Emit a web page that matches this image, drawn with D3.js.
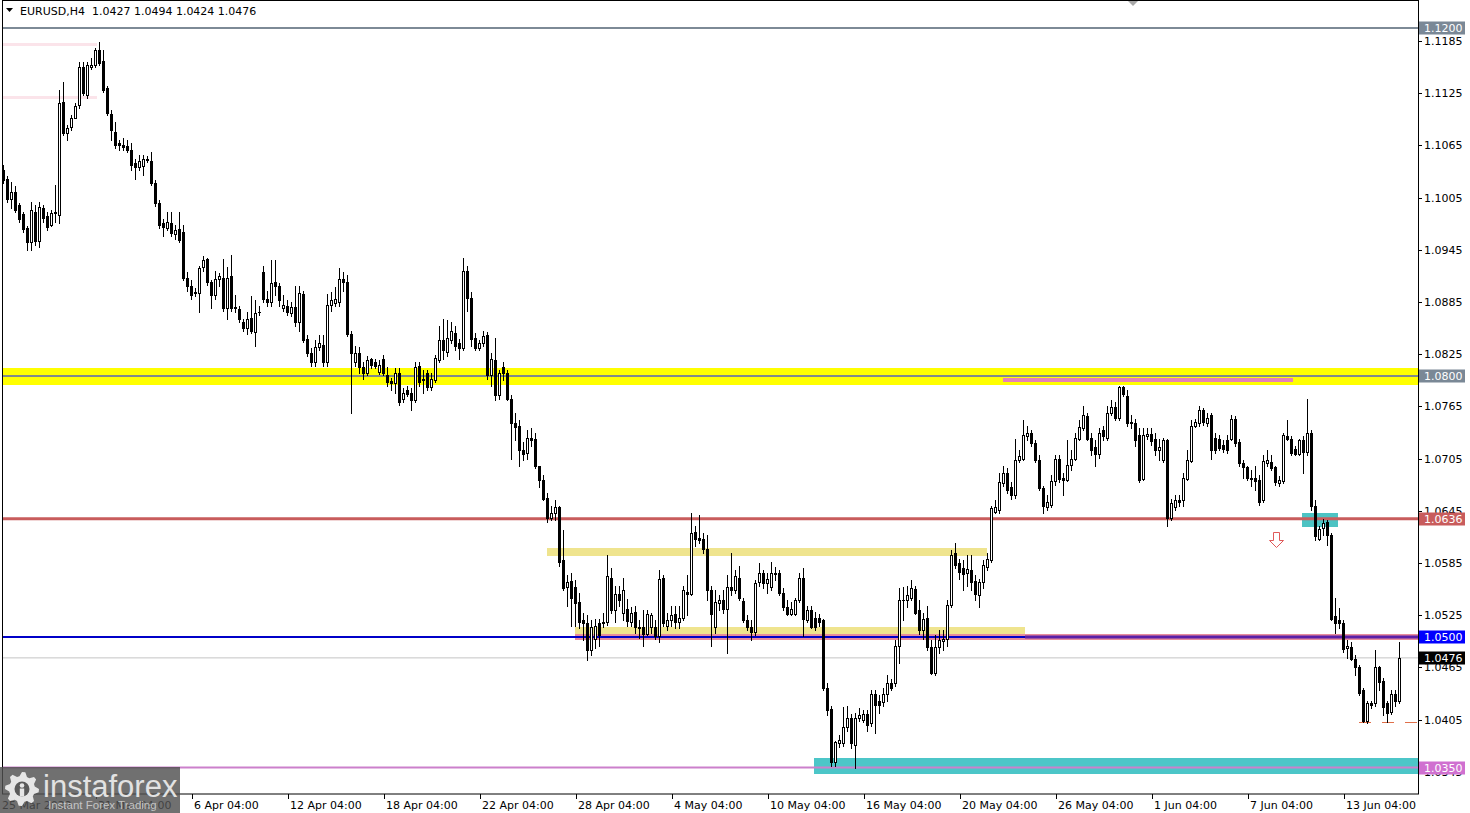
<!DOCTYPE html>
<html><head><meta charset="utf-8">
<script src="https://cdn.jsdelivr.net/npm/d3@7"></script>
<style>html,body{margin:0;padding:0;background:#fff;overflow:hidden}</style>
</head><body>
<svg id="c" width="1470" height="813"></svg>
<script>
const opens=[
1.1037,1.1027,1.1004,1.1012,1.0996,1.0986,1.0970,1.0954,1.0989,1.0955,
1.0993,1.0984,1.0974,1.0987,1.0985,1.1115,1.1079,1.1086,1.1097,1.1111,
1.1155,1.1123,1.1155,1.1157,1.1175,1.1162,1.1131,1.1101,1.1081,1.1068,
1.1066,1.1064,1.1060,1.1045,1.1040,1.1041,1.1048,1.1047,1.1022,1.0999,
1.0976,1.0970,1.0976,1.0963,1.0969,1.0965,1.0913,1.0904,1.0896,1.0895,
1.0925,1.0934,1.0908,1.0893,1.0911,1.0913,1.0878,1.0915,1.0878,1.0877,
1.0862,1.0855,1.0867,1.0851,1.0873,1.0920,1.0889,1.0885,1.0908,1.0904,
1.0878,1.0881,1.0872,1.0879,1.0862,1.0894,1.0842,1.0827,1.0816,1.0833,
1.0836,1.0816,1.0882,1.0884,1.0885,1.0912,1.0908,1.0848,1.0816,1.0826,
1.0810,1.0804,1.0819,1.0816,1.0805,1.0820,1.0801,1.0794,1.0792,1.0804,
1.0773,1.0784,1.0780,1.0772,1.0811,1.0797,1.0803,1.0787,1.0795,1.0818,
1.0841,1.0828,1.0841,1.0850,1.0838,1.0832,1.0921,1.0890,1.0844,1.0832,
1.0838,1.0847,1.0801,1.0818,1.0778,1.0810,1.0803,1.0774,1.0746,1.0742,
1.0715,1.0711,1.0729,1.0728,1.0696,1.0680,1.0660,1.0637,1.0643,1.0650,
1.0588,1.0557,1.0564,1.0558,1.0540,1.0520,1.0516,1.0485,1.0498,1.0516,
1.0516,1.0517,1.0568,1.0531,1.0549,1.0528,1.0532,1.0517,1.0529,1.0512,
1.0511,1.0504,1.0511,1.0511,1.0501,1.0568,1.0513,1.0519,1.0526,1.0517,
1.0522,1.0552,1.0550,1.0621,1.0614,1.0613,1.0601,1.0554,1.0511,1.0539,
1.0543,1.0532,1.0557,1.0554,1.0568,1.0541,1.0519,1.0512,1.0506,1.0563,
1.0574,1.0562,1.0557,1.0573,1.0573,1.0551,1.0534,1.0527,1.0527,1.0542,
1.0568,1.0519,1.0531,1.0522,1.0522,1.0519,1.0441,1.0417,1.0356,1.0378,
1.0378,1.0396,1.0407,1.0376,1.0407,1.0405,1.0412,1.0401,1.0434,1.0426,
1.0425,1.0434,1.0447,1.0447,1.0490,1.0542,1.0542,1.0545,1.0555,1.0531,
1.0508,1.0522,1.0488,1.0459,1.0488,1.0495,1.0498,1.0537,1.0596,1.0585,
1.0579,1.0573,1.0577,1.0564,1.0548,1.0563,1.0581,1.0588,1.0644,1.0646,
1.0677,1.0688,1.0672,1.0663,1.0704,1.0705,1.0731,1.0734,1.0723,1.0704,
1.0671,1.0649,1.0652,1.0679,1.0705,1.0683,1.0681,1.0698,1.0705,1.0728,
1.0740,1.0754,1.0729,1.0718,1.0710,1.0738,1.0729,1.0757,1.0764,1.0752,
1.0787,1.0777,1.0746,1.0746,1.0732,1.0682,1.0731,1.0733,1.0728,1.0715,
1.0703,1.0726,1.0637,1.0650,1.0658,1.0657,1.0682,1.0702,1.0743,1.0746,
1.0761,1.0746,1.0755,1.0729,1.0728,1.0721,1.0726,1.0728,1.0751,1.0724,
1.0700,1.0695,1.0683,1.0683,1.0680,1.0657,1.0700,1.0701,1.0695,1.0677,
1.0679,1.0731,1.0728,1.0716,1.0710,1.0727,1.0713,1.0735,1.0651,1.0613,
1.0625,1.0632,1.0617,1.0524,1.0519,1.0516,1.0487,1.0489,1.0475,1.0466,
1.0439,1.0404,1.0424,1.0424,1.0465,1.0450,1.0424,1.0414,1.0435,1.0427];
const highs=[
1.1042,1.1030,1.1023,1.1018,1.0999,1.0988,1.0972,1.1000,1.0996,1.1000,
1.0996,1.0988,1.0991,1.1019,1.1129,1.1138,1.1088,1.1100,1.1114,1.1161,
1.1161,1.1161,1.1165,1.1177,1.1184,1.1175,1.1133,1.1106,1.1092,1.1071,
1.1074,1.1071,1.1068,1.1050,1.1054,1.1054,1.1053,1.1057,1.1025,1.1002,
1.0981,1.0988,1.0988,1.0973,1.0988,1.0973,1.0919,1.0910,1.0901,1.0926,
1.0938,1.0936,1.0910,1.0921,1.0918,1.0935,1.0925,1.0939,1.0893,1.0881,
1.0866,1.0873,1.0892,1.0887,1.0881,1.0926,1.0898,1.0933,1.0933,1.0907,
1.0893,1.0887,1.0885,1.0904,1.0904,1.0898,1.0847,1.0832,1.0841,1.0847,
1.0847,1.0894,1.0896,1.0902,1.0924,1.0919,1.0916,1.0852,1.0835,1.0833,
1.0816,1.0823,1.0821,1.0820,1.0818,1.0824,1.0810,1.0798,1.0809,1.0809,
1.0786,1.0789,1.0786,1.0816,1.0816,1.0807,1.0807,1.0804,1.0824,1.0858,
1.0866,1.0864,1.0862,1.0858,1.0843,1.0936,1.0926,1.0896,1.0850,1.0841,
1.0852,1.0851,1.0827,1.0844,1.0807,1.0816,1.0807,1.0778,1.0758,1.0749,
1.0724,1.0738,1.0740,1.0735,1.0697,1.0686,1.0666,1.0651,1.0657,1.0651,
1.0623,1.0571,1.0574,1.0565,1.0551,1.0528,1.0525,1.0519,1.0521,1.0521,
1.0528,1.0594,1.0579,1.0559,1.0559,1.0568,1.0544,1.0534,1.0536,1.0519,
1.0531,1.0531,1.0528,1.0519,1.0577,1.0571,1.0528,1.0536,1.0536,1.0536,
1.0559,1.0571,1.0642,1.0628,1.0640,1.0620,1.0617,1.0559,1.0554,1.0548,
1.0554,1.0571,1.0597,1.0577,1.0582,1.0545,1.0525,1.0519,1.0565,1.0585,
1.0577,1.0573,1.0586,1.0581,1.0577,1.0556,1.0542,1.0540,1.0545,1.0574,
1.0579,1.0536,1.0536,1.0529,1.0526,1.0521,1.0447,1.0421,1.0381,1.0387,
1.0420,1.0421,1.0412,1.0413,1.0418,1.0416,1.0416,1.0439,1.0439,1.0433,
1.0441,1.0456,1.0452,1.0496,1.0556,1.0557,1.0559,1.0565,1.0559,1.0542,
1.0528,1.0536,1.0496,1.0502,1.0508,1.0508,1.0542,1.0600,1.0608,1.0590,
1.0588,1.0594,1.0594,1.0571,1.0567,1.0588,1.0596,1.0651,1.0657,1.0689,
1.0697,1.0694,1.0678,1.0728,1.0715,1.0749,1.0743,1.0738,1.0726,1.0709,
1.0674,1.0663,1.0686,1.0709,1.0709,1.0689,1.0726,1.0715,1.0735,1.0749,
1.0766,1.0758,1.0734,1.0726,1.0740,1.0743,1.0766,1.0772,1.0770,1.0789,
1.0789,1.0784,1.0755,1.0751,1.0740,1.0740,1.0740,1.0740,1.0735,1.0728,
1.0729,1.0728,1.0659,1.0663,1.0663,1.0689,1.0715,1.0749,1.0751,1.0766,
1.0763,1.0758,1.0758,1.0735,1.0732,1.0726,1.0732,1.0755,1.0754,1.0728,
1.0703,1.0697,1.0692,1.0697,1.0686,1.0709,1.0715,1.0709,1.0697,1.0685,
1.0735,1.0749,1.0731,1.0719,1.0728,1.0731,1.0773,1.0738,1.0657,1.0628,
1.0636,1.0634,1.0620,1.0545,1.0533,1.0519,1.0496,1.0494,1.0479,1.0468,
1.0441,1.0427,1.0427,1.0485,1.0467,1.0453,1.0427,1.0439,1.0439,1.0494];
const lows=[
1.1022,1.1000,1.0993,1.0988,1.0977,1.0965,1.0945,1.0945,1.0951,1.0948,
1.0977,1.0968,1.0972,1.0977,1.0976,1.1077,1.1071,1.1083,1.1096,1.1108,
1.1123,1.1120,1.1153,1.1155,1.1157,1.1126,1.1100,1.1071,1.1062,1.1060,
1.1060,1.1057,1.1037,1.1027,1.1037,1.1031,1.1046,1.1019,1.0995,1.0970,
1.0961,1.0968,1.0961,1.0958,1.0954,1.0910,1.0898,1.0889,1.0892,1.0873,
1.0921,1.0905,1.0878,1.0889,1.0904,1.0875,1.0866,1.0875,1.0873,1.0862,
1.0852,1.0848,1.0849,1.0835,1.0870,1.0885,1.0881,1.0881,1.0893,1.0881,
1.0875,1.0870,1.0869,1.0858,1.0852,1.0839,1.0823,1.0812,1.0812,1.0830,
1.0812,1.0812,1.0875,1.0881,1.0881,1.0898,1.0846,1.0757,1.0812,1.0804,
1.0797,1.0801,1.0809,1.0809,1.0802,1.0801,1.0789,1.0784,1.0781,1.0767,
1.0770,1.0777,1.0761,1.0770,1.0789,1.0781,1.0784,1.0784,1.0793,1.0816,
1.0820,1.0823,1.0838,1.0830,1.0820,1.0830,1.0875,1.0835,1.0830,1.0830,
1.0835,1.0797,1.0789,1.0772,1.0774,1.0795,1.0772,1.0705,1.0726,1.0696,
1.0703,1.0705,1.0720,1.0694,1.0672,1.0657,1.0632,1.0634,1.0634,1.0582,
1.0554,1.0536,1.0513,1.0513,1.0510,1.0496,1.0473,1.0479,1.0487,1.0490,
1.0512,1.0514,1.0528,1.0517,1.0536,1.0519,1.0513,1.0513,1.0505,1.0499,
1.0490,1.0502,1.0505,1.0498,1.0494,1.0513,1.0508,1.0513,1.0510,1.0510,
1.0519,1.0525,1.0548,1.0605,1.0608,1.0597,1.0542,1.0490,1.0505,1.0531,
1.0528,1.0482,1.0548,1.0551,1.0542,1.0517,1.0508,1.0496,1.0502,1.0559,
1.0556,1.0551,1.0554,1.0565,1.0548,1.0531,1.0525,1.0525,1.0525,1.0540,
1.0501,1.0517,1.0510,1.0508,1.0513,1.0439,1.0410,1.0352,1.0352,1.0374,
1.0375,1.0392,1.0372,1.0350,1.0404,1.0402,1.0392,1.0398,1.0390,1.0413,
1.0421,1.0427,1.0439,1.0444,1.0470,1.0519,1.0534,1.0542,1.0526,1.0504,
1.0498,1.0485,1.0457,1.0456,1.0482,1.0485,1.0490,1.0535,1.0579,1.0567,
1.0554,1.0559,1.0554,1.0542,1.0534,1.0556,1.0577,1.0586,1.0642,1.0643,
1.0674,1.0666,1.0659,1.0660,1.0701,1.0703,1.0726,1.0720,1.0701,1.0669,
1.0642,1.0646,1.0650,1.0675,1.0678,1.0663,1.0679,1.0692,1.0703,1.0726,
1.0738,1.0726,1.0709,1.0697,1.0706,1.0726,1.0726,1.0755,1.0749,1.0749,
1.0777,1.0743,1.0740,1.0720,1.0678,1.0680,1.0728,1.0721,1.0709,1.0703,
1.0701,1.0628,1.0634,1.0646,1.0651,1.0651,1.0680,1.0701,1.0741,1.0743,
1.0744,1.0743,1.0705,1.0712,1.0715,1.0713,1.0711,1.0726,1.0720,1.0697,
1.0683,1.0680,1.0674,1.0669,1.0652,1.0655,1.0697,1.0692,1.0675,1.0674,
1.0677,1.0726,1.0709,1.0709,1.0709,1.0688,1.0709,1.0646,1.0611,1.0611,
1.0617,1.0606,1.0519,1.0505,1.0510,1.0483,1.0476,1.0473,1.0456,1.0433,
1.0402,1.0401,1.0418,1.0421,1.0439,1.0410,1.0402,1.0412,1.0421,1.0424];
const closes=[
1.1025,1.1004,1.1011,1.0991,1.0981,1.0969,1.0954,1.0991,1.0955,1.0994,
1.0982,1.0971,1.0987,1.0988,1.1114,1.1079,1.1085,1.1097,1.1110,1.1155,
1.1125,1.1157,1.1158,1.1175,1.1160,1.1129,1.1102,1.1083,1.1065,1.1066,
1.1063,1.1060,1.1042,1.1040,1.1047,1.1049,1.1049,1.1022,1.0999,1.0973,
1.0971,1.0977,1.0964,1.0968,1.0956,1.0913,1.0903,1.0893,1.0895,1.0924,
1.0933,1.0908,1.0893,1.0912,1.0915,1.0878,1.0913,1.0878,1.0879,1.0865,
1.0855,1.0866,1.0852,1.0872,1.0874,1.0888,1.0885,1.0907,1.0904,1.0887,
1.0882,1.0873,1.0879,1.0862,1.0895,1.0841,1.0826,1.0816,1.0833,1.0838,
1.0816,1.0882,1.0887,1.0888,1.0911,1.0908,1.0848,1.0826,1.0827,1.0810,
1.0804,1.0818,1.0813,1.0812,1.0813,1.0804,1.0793,1.0792,1.0804,1.0770,
1.0781,1.0779,1.0772,1.0810,1.0793,1.0795,1.0787,1.0797,1.0821,1.0841,
1.0830,1.0844,1.0852,1.0835,1.0832,1.0921,1.0890,1.0843,1.0832,1.0838,
1.0846,1.0801,1.0819,1.0778,1.0803,1.0803,1.0774,1.0746,1.0741,1.0715,
1.0710,1.0729,1.0727,1.0697,1.0680,1.0659,1.0637,1.0642,1.0650,1.0586,
1.0556,1.0563,1.0545,1.0539,1.0517,1.0516,1.0485,1.0511,1.0513,1.0502,
1.0517,1.0570,1.0531,1.0550,1.0543,1.0554,1.0518,1.0528,1.0511,1.0510,
1.0504,1.0526,1.0525,1.0501,1.0567,1.0516,1.0519,1.0525,1.0517,1.0522,
1.0554,1.0550,1.0620,1.0613,1.0611,1.0601,1.0554,1.0527,1.0540,1.0542,
1.0532,1.0557,1.0554,1.0570,1.0545,1.0519,1.0511,1.0506,1.0562,1.0573,
1.0562,1.0567,1.0574,1.0572,1.0551,1.0534,1.0527,1.0532,1.0542,1.0568,
1.0521,1.0531,1.0512,1.0512,1.0517,1.0441,1.0416,1.0356,1.0379,1.0382,
1.0396,1.0407,1.0378,1.0407,1.0410,1.0411,1.0399,1.0434,1.0422,1.0422,
1.0434,1.0447,1.0441,1.0490,1.0543,1.0543,1.0548,1.0556,1.0528,1.0508,
1.0521,1.0488,1.0459,1.0488,1.0496,1.0498,1.0537,1.0594,1.0583,1.0575,
1.0572,1.0578,1.0563,1.0549,1.0563,1.0583,1.0590,1.0648,1.0649,1.0678,
1.0689,1.0669,1.0663,1.0704,1.0708,1.0732,1.0735,1.0723,1.0704,1.0671,
1.0651,1.0655,1.0679,1.0705,1.0682,1.0681,1.0698,1.0705,1.0729,1.0741,
1.0755,1.0728,1.0715,1.0710,1.0734,1.0731,1.0757,1.0764,1.0752,1.0787,
1.0779,1.0746,1.0747,1.0726,1.0680,1.0732,1.0733,1.0725,1.0715,1.0718,
1.0726,1.0637,1.0654,1.0657,1.0655,1.0683,1.0703,1.0743,1.0747,1.0761,
1.0747,1.0752,1.0715,1.0715,1.0717,1.0716,1.0715,1.0751,1.0723,1.0700,
1.0695,1.0683,1.0682,1.0679,1.0655,1.0702,1.0703,1.0694,1.0678,1.0680,
1.0732,1.0728,1.0712,1.0710,1.0726,1.0713,1.0734,1.0651,1.0616,1.0624,
1.0631,1.0617,1.0521,1.0516,1.0516,1.0486,1.0490,1.0475,1.0465,1.0436,
1.0404,1.0424,1.0422,1.0466,1.0448,1.0419,1.0413,1.0435,1.0426,1.0476];

const priceTicks=[1.1185,1.1125,1.1065,1.1005,1.0945,1.0885,1.0825,1.0765,1.0705,1.0645,1.0585,1.0525,1.0465,1.0405,1.0345];
const dateLabels=["25 Mar 2022","31 Mar 04:00","6 Apr 04:00","12 Apr 04:00","18 Apr 04:00","22 Apr 04:00","28 Apr 04:00","4 May 04:00","10 May 04:00","16 May 04:00","20 May 04:00","26 May 04:00","1 Jun 04:00","7 Jun 04:00","13 Jun 04:00"];
const dateBars=[0,23,47,71,95,119,143,167,191,215,239,263,287,311,335];
const levelValues=[1.1200,1.0800,1.0636,1.0500,1.0476,1.0350];
const levelLabels=["1.1200","1.0800","1.0636","1.0500","1.0476","1.0350"];
// zones: low price, high price, start bar, end bar (null = right edge)
const zoneLows=[1.1179,1.1118,1.0790,1.0793,1.0593,1.0504,1.0496,1.0343,1.0627];
const zoneHighs=[1.1183,1.1122,1.0809,1.0798,1.0602,1.0512,1.0503,1.0361,1.0643];
const zoneStart=[-1,-1,-1,250,136,143,143,202.8,324.75];
const zoneEnd=[23.5,23.5,null,322.5,246,255.5,null,null,333.75];
const violetLevel=1.0500, violetStartBar=255.5;
const dashedLevel=1.0402, dashedStartBar=339;
const arrowBar=318.3, arrowPrice=1.0621;
const header="EURUSD,H4  1.0427 1.0494 1.0424 1.0476";

const zoneColors=["#fbe4ea","#fbe4ea","#ffff00","#e580b8","#efe48e","#efe48e","#e88c9c","#4cc6c8","#4cc3c3"];
const levelColors=["#7d8a96","#7f8a8c","#c85c5c","#0000c8","#c4c4c4","#cc80cc"];
const levelWidths=[2,2,3,2,1,2];
const labelBg=["#7a8896","#7a8896","#c85c5c","#0000ff","#000000","#d070d0"];

const svg=d3.select('#c');
const plotL=2, plotR=1418, plotB=794;
const x=d3.scaleLinear().domain([0,349]).range([3,1399]);
const y=d3.scaleLinear().domain([1.035,1.12]).range([767.5,28]);
const py=v=>Math.round(y(v));
const FONT="DejaVu Sans";

svg.append('rect').attr('width',1470).attr('height',813).attr('fill','#fff');

// zones
const zg=svg.append('g').attr('shape-rendering','crispEdges');
zoneLows.forEach((lo,i)=>{
  const x0=zoneStart[i]<0?plotL:Math.round(x(zoneStart[i]));
  const x1=zoneEnd[i]==null?plotR:Math.round(x(zoneEnd[i]));
  const y0=py(zoneHighs[i]), y1=py(lo);
  zg.append('rect').attr('x',x0).attr('y',y0).attr('width',x1-x0).attr('height',Math.max(1,y1-y0)).attr('fill',zoneColors[i]);
});

// level lines
const lg=svg.append('g');
levelValues.forEach((v,i)=>{
  const yy=y(v);
  lg.append('line').attr('x1',plotL).attr('x2',plotR).attr('y1',yy).attr('y2',yy)
    .attr('stroke',levelColors[i]).attr('stroke-width',levelWidths[i]);
});
// violet overlay segment on the 1.0500 level
lg.append('line').attr('x1',Math.round(x(violetStartBar))).attr('x2',plotR)
  .attr('y1',y(violetLevel)).attr('y2',y(violetLevel))
  .attr('stroke','#5a1fa8').attr('stroke-width',3);
// dashed level
lg.append('line').attr('x1',Math.round(x(dashedStartBar))).attr('x2',plotR)
  .attr('y1',py(dashedLevel)+0.5).attr('y2',py(dashedLevel)+0.5)
  .attr('stroke','#e0704a').attr('stroke-width',1).attr('stroke-dasharray','12,11');

// candles
const cg=svg.append('g').attr('shape-rendering','crispEdges');
closes.forEach((c,i)=>{
  const o=opens[i], h=highs[i], l=lows[i];
  const cx=Math.round(x(i));
  const yh=py(h), yl=py(l);
  cg.append('rect').attr('x',cx).attr('y',yh).attr('width',1).attr('height',Math.max(1,yl-yh+1)).attr('fill','#000');
  const top=py(Math.max(o,c)), bot=py(Math.min(o,c));
  const bh=Math.max(1,bot-top+1);
  cg.append('rect').attr('x',cx-1).attr('y',top).attr('width',3).attr('height',bh).attr('fill','#000');
  if(c>o && bh>2){
    cg.append('rect').attr('x',cx).attr('y',top+1).attr('width',1).attr('height',bh-2).attr('fill','#fff');
  }
});

// red arrow
{
  const ax=Math.round(x(arrowBar))+0.5, ay=py(arrowPrice)+0.5;
  svg.append('path').attr('d',`M${ax-3},${ay} L${ax+3},${ay} L${ax+3},${ay+8} L${ax+7},${ay+8} L${ax},${ay+15} L${ax-7},${ay+8} L${ax-3},${ay+8} Z`)
    .attr('fill','#fff').attr('stroke','#e05a5a').attr('stroke-width',1);
}
// top shift triangle
{
  const tx=Math.round(x(282.5));
  svg.append('path').attr('d',`M${tx-6},0 L${tx+6},0 L${tx},6 Z`).attr('fill','#a8a8a8');
}

// frame
svg.append('rect').attr('x',plotL+0.5).attr('y',0.5).attr('width',plotR-plotL).attr('height',plotB-0.5)
  .attr('fill','none').attr('stroke','#000').attr('stroke-width',1);

// right axis ticks
const ag=svg.append('g').attr('font-family',FONT).attr('font-size',11);
priceTicks.forEach(t=>{
  const yy=py(t)+0.5;
  ag.append('line').attr('x1',plotR).attr('x2',plotR+4).attr('y1',yy).attr('y2',yy).attr('stroke','#000');
  ag.append('text').attr('x',1424).attr('y',yy).attr('dy','0.36em').attr('fill','#000').text(t.toFixed(4));
});
// level labels
levelValues.forEach((v,i)=>{
  const yy=Math.round(y(v));
  ag.append('rect').attr('x',plotR+1).attr('y',yy-6.5).attr('width',46).attr('height',13).attr('fill',labelBg[i]);
  ag.append('text').attr('x',1424).attr('y',yy).attr('dy','0.36em').attr('fill','#fff').text(levelLabels[i]);
});

// bottom axis
const bg=svg.append('g').attr('font-family',FONT).attr('font-size',11);
dateLabels.forEach((d,i)=>{
  const tx=i===0?plotL-2:Math.round(x(dateBars[i]))+1;
  if(i>0) bg.append('line').attr('x1',tx+0.5).attr('x2',tx+0.5).attr('y1',plotB).attr('y2',plotB+5).attr('stroke','#000');
  bg.append('text').attr('x',tx+2).attr('y',809).attr('fill','#000').text(d);
});

// header
svg.append('path').attr('d','M6,8 L13,8 L9.5,12 Z').attr('fill','#000');
svg.append('text').attr('x',20).attr('y',15).attr('font-family',FONT).attr('font-size',11)
  .attr('fill','#000').style('white-space','pre').text(header);

// logo
{
  const g=svg.append('g');
  g.append('rect').attr('x',0).attr('y',767).attr('width',180).attr('height',46).attr('fill','#505050').attr('opacity',0.82);
  const gx=22, gy=789, teeth=8, rO=17, rI=13;
  const pts=[];
  for(let k=0;k<teeth*4;k++){
    const a=(k/(teeth*4))*Math.PI*2;
    const r=(k%4===0||k%4===1)?rO:rI;
    pts.push([gx+r*Math.cos(a),gy+r*Math.sin(a)]);
  }
  g.append('path').attr('d','M'+pts.map(p=>p.join(',')).join('L')+'Z').attr('fill','#e6e6e6');
  g.append('circle').attr('cx',gx).attr('cy',gy).attr('r',7.5).attr('fill','#5a5a5a');
  g.append('circle').attr('cx',gx).attr('cy',gy-3.5).attr('r',2.3).attr('fill','#e6e6e6');
  g.append('rect').attr('x',gx-2.2).attr('y',gy-0.5).attr('width',4.4).attr('height',8).attr('fill','#e6e6e6');
  g.append('text').attr('x',43).attr('y',797).attr('font-family','Liberation Sans').attr('font-size',31)
    .attr('fill','#e2e2e2').text('instaforex');
  g.append('text').attr('x',48).attr('y',809).attr('font-family','Liberation Sans').attr('font-size',11.5)
    .attr('fill','#c4c4c4').text('Instant Forex Trading');
}
</script>
</body></html>
